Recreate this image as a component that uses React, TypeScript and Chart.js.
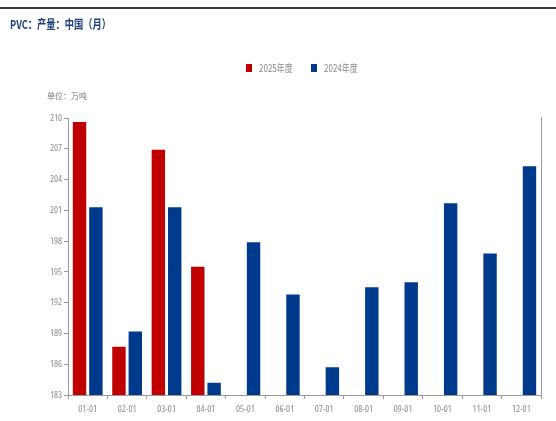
import React, { useEffect, useRef } from "react";
import { Chart, registerables } from "chart.js";

Chart.register(...registerables);

// Monthly PVC output, China (10k tonnes)
const months = ["01-01", "02-01", "03-01", "04-01", "05-01", "06-01", "07-01", "08-01", "09-01", "10-01", "11-01", "12-01"];
const output2025: (number | null)[] = [209.6, 187.7, 206.9, 195.5, null, null, null, null, null, null, null, null];
const output2024: number[] = [201.3, 189.2, 201.3, 184.2, 197.9, 192.8, 185.7, 193.5, 194.0, 201.7, 196.8, 205.3];
const yMin = 183;
const yMax = 210;
const yStep = 3;

const titleText = "PVC：产量：中国（月）";
const unitText = "单位：万吨";
const seriesNames = ["2025年度", "2024年度"];
const seriesColors = ["#C00000", "#003A8C"];

const axisFamily = "'Open Sans', 'Noto Sans CJK SC', sans-serif";

// draw text squeezed horizontally
function narrowText(ctx: CanvasRenderingContext2D, text: string, x: number, y: number, sx: number) {
  ctx.save();
  ctx.translate(x, y);
  ctx.scale(sx, 1);
  ctx.fillText(text, 0, 0);
  ctx.restore();
}

const decorations = {
  id: "decorations",
  afterDraw(chart: any) {
    const { ctx, chartArea } = chart;
    ctx.save();
    // top rule
    ctx.strokeStyle = "#3a3a3a";
    ctx.lineWidth = 2;
    ctx.beginPath();
    ctx.moveTo(0, 8);
    ctx.lineTo(chart.width, 8);
    ctx.stroke();

    // title
    ctx.fillStyle = "#1F3F7A";
    ctx.font = "bold 12px 'Noto Sans CJK SC', sans-serif";
    ctx.textBaseline = "middle";
    ctx.textAlign = "left";
    narrowText(ctx, titleText, 10, 24, 0.77);

    // legend
    ctx.font = `10px 'Noto Sans CJK SC', sans-serif`;
    const legendX = [246, 311];
    seriesNames.forEach((name, i) => {
      ctx.fillStyle = seriesColors[i];
      ctx.fillRect(legendX[i], 64, 6, 8);
      ctx.fillStyle = "#888";
      narrowText(ctx, name, legendX[i] + 13, 68.5, 0.8);
    });

    // unit label
    ctx.fillStyle = "#777";
    ctx.font = `8px 'Noto Sans CJK SC', sans-serif`;
    ctx.fillText(unitText, 47, 96);

    // right frame line
    ctx.strokeStyle = "#9a9a9a";
    ctx.lineWidth = 1;
    ctx.beginPath();
    ctx.moveTo(Math.round(chartArea.right) + 0.5, chartArea.top - 1);
    ctx.lineTo(Math.round(chartArea.right) + 0.5, chartArea.bottom);
    ctx.stroke();
    ctx.restore();
  },
};

export default function App() {
  const ref = useRef<HTMLCanvasElement | null>(null);

  useEffect(() => {
    if (!ref.current) return;
    const chart = new Chart(ref.current, {
      type: "bar",
      data: {
        labels: months,
        datasets: [
          { label: seriesNames[0], data: output2025, backgroundColor: seriesColors[0] },
          { label: seriesNames[1], data: output2024, backgroundColor: seriesColors[1] },
        ],
      },
      options: {
        animation: false,
        responsive: false,
        maintainAspectRatio: false,
        layout: { padding: { left: 0, right: 15, top: 118, bottom: 0 } },
        plugins: {
          legend: { display: false },
          title: { display: false },
          tooltip: { enabled: false },
        },
        datasets: {
          bar: { categoryPercentage: 0.83, barPercentage: 0.82 },
        },
        scales: {
          x: {
            grid: { display: true, drawOnChartArea: false, tickLength: 4, color: "#9a9a9a", offset: true },
            border: { color: "#9a9a9a" },
            ticks: {
              color: "#8a8a8a",
              font: { family: axisFamily, size: 9.5, weight: "condensed" as any },
              padding: 5,
              maxRotation: 0,
              autoSkip: false,
            },
            afterFit(scale: any) {
              scale.height = 26;
            },
          },
          y: {
            min: yMin,
            max: yMax,
            ticks: {
              stepSize: yStep,
              color: "#8a8a8a",
              font: { family: axisFamily, size: 9.5, weight: "condensed" as any },
              padding: 2,
            },
            grid: { display: true, drawOnChartArea: false, tickLength: 4, color: "#9a9a9a" },
            border: { color: "#9a9a9a" },
            afterFit(scale: any) {
              scale.width = 68;
            },
          },
        },
      },
      plugins: [decorations],
    });
    return () => chart.destroy();
  }, []);

  return (
    <div style={{ position: "absolute", left: 0, top: 0, width: 556, height: 421, background: "#fff" }}>
      <canvas ref={ref} width={556} height={421} style={{ display: "block" }} />
    </div>
  );
}
